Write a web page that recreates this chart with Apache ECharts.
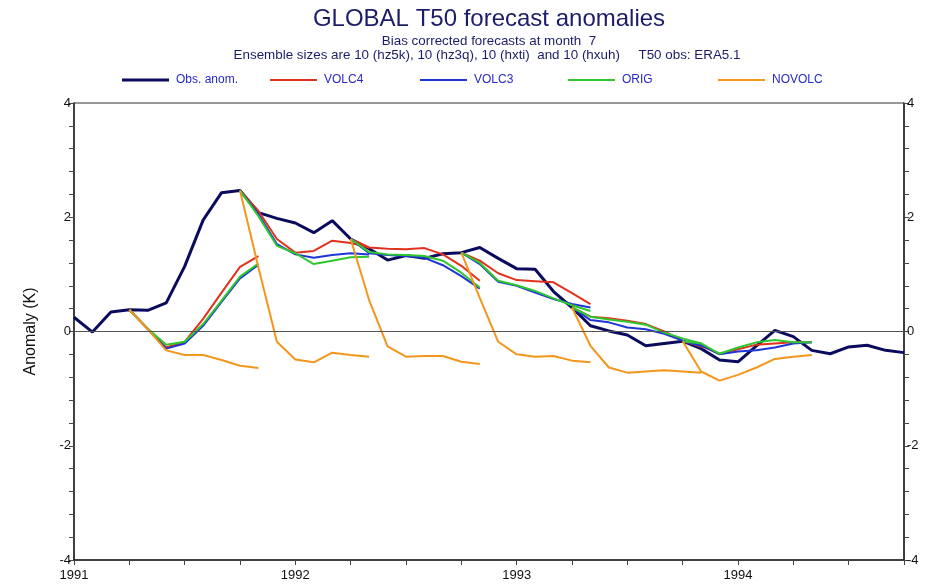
<!DOCTYPE html>
<html>
<head>
<meta charset="utf-8">
<script src="https://cdn.jsdelivr.net/npm/echarts@6/dist/echarts.min.js"></script>
<style>
  html, body { margin: 0; padding: 0; background: #fff; }
  #chart { width: 925px; height: 586px; }
</style>
</head>
<body>
<div id="chart"></div>
<script>
// months counted from Jan 1991 (0 = 1991)
const yearLabels = ["1991", "1992", "1993", "1994"];

// observed anomaly, one value per month
const obsAnom = [
  0.25, -0.01, 0.34, 0.38, 0.37, 0.50, 1.14, 1.95, 2.43, 2.47, 2.08, 1.98,
  1.90, 1.73, 1.94, 1.62, 1.45, 1.25, 1.33, 1.28, 1.36, 1.38, 1.47, 1.28,
  1.10, 1.09, 0.70, 0.42, 0.10, 0.01, -0.06, -0.25, -0.21, -0.17, -0.30, -0.50,
  -0.53, -0.25, 0.02, -0.09, -0.33, -0.39, -0.27, -0.24, -0.33, -0.37
];

// forecast start months, each forecast runs 8 months (start + 7)
const startMonths = [3, 9, 15, 21, 27, 33];

const volc4 = [
  [0.38, 0.05, -0.28, -0.18, 0.22, 0.68, 1.13, 1.32],
  [2.47, 2.11, 1.62, 1.38, 1.41, 1.59, 1.55, 1.47],
  [1.62, 1.47, 1.45, 1.44, 1.46, 1.35, 1.15, 0.89],
  [1.38, 1.24, 1.02, 0.90, 0.88, 0.86, 0.67, 0.48],
  [0.42, 0.26, 0.23, 0.19, 0.13, 0.00, -0.16, -0.27],
  [-0.17, -0.25, -0.39, -0.31, -0.23, -0.21, -0.19, -0.19]
];
const volc3 = [
  [0.38, 0.04, -0.30, -0.21, 0.10, 0.52, 0.93, 1.17],
  [2.47, 2.05, 1.53, 1.35, 1.29, 1.34, 1.37, 1.35],
  [1.62, 1.37, 1.34, 1.32, 1.29, 1.16, 0.97, 0.75],
  [1.38, 1.18, 0.87, 0.80, 0.68, 0.57, 0.48, 0.42],
  [0.42, 0.20, 0.16, 0.07, 0.04, -0.04, -0.16, -0.25],
  [-0.17, -0.24, -0.40, -0.35, -0.33, -0.28, -0.21, -0.19]
];
const orig = [
  [0.38, 0.05, -0.23, -0.18, 0.13, 0.54, 0.96, 1.19],
  [2.47, 2.02, 1.50, 1.37, 1.18, 1.24, 1.30, 1.31],
  [1.62, 1.39, 1.35, 1.34, 1.32, 1.24, 1.03, 0.77],
  [1.38, 1.20, 0.89, 0.81, 0.71, 0.58, 0.46, 0.36],
  [0.42, 0.26, 0.21, 0.17, 0.12, -0.02, -0.12, -0.21],
  [-0.17, -0.21, -0.39, -0.28, -0.19, -0.15, -0.19, -0.19]
];
const novolc = [
  [0.38, 0.04, -0.33, -0.41, -0.41, -0.50, -0.60, -0.64],
  [2.47, 1.12, -0.18, -0.49, -0.54, -0.37, -0.41, -0.44],
  [1.62, 0.55, -0.26, -0.44, -0.43, -0.43, -0.53, -0.57],
  [1.38, 0.59, -0.18, -0.40, -0.44, -0.43, -0.51, -0.54],
  [0.42, -0.25, -0.63, -0.72, -0.70, -0.68, -0.70, -0.72],
  [-0.17, -0.70, -0.86, -0.76, -0.63, -0.48, -0.44, -0.41]
];

const fontMain = "'Liberation Sans', Arial, sans-serif";
const fontNarrow = "'Liberation Sans Narrow', 'Liberation Sans', Arial, sans-serif";
const titleColor = "#1c1c6a";

function segSeries(name, segs, color) {
  return segs.map(function (vals, s) {
    return {
      name: name,
      type: "line",
      symbol: "none",
      xAxisIndex: 0,
      yAxisIndex: 0,
      itemStyle: { color: color },
      lineStyle: { color: color, width: 2 },
      data: vals.map(function (v, k) { return [startMonths[s] + k, v]; })
    };
  });
}

const chart = echarts.init(document.getElementById("chart"));

const legendItems = [
  { name: "Obs. anom.", left: 122 },
  { name: "VOLC4", left: 270 },
  { name: "VOLC3", left: 420 },
  { name: "ORIG", left: 568 },
  { name: "NOVOLC", left: 718 }
];

const option = {
  animation: false,
  backgroundColor: "#fff",
  graphic: [
    { type: "text", x: 489, y: 19, style: { text: "GLOBAL T50 forecast anomalies", fill: titleColor,
      font: "24px " + fontMain, align: "center", verticalAlign: "middle" } },
    { type: "text", x: 489, y: 41, style: { text: "Bias corrected forecasts at month  7", fill: titleColor,
      font: "13.4px " + fontMain, align: "center", verticalAlign: "middle" } },
    { type: "text", x: 487, y: 55, style: {
      text: "Ensemble sizes are 10 (hz5k), 10 (hz3q), 10 (hxti)  and 10 (hxuh)     T50 obs: ERA5.1",
      fill: titleColor, font: "13.4px " + fontMain, align: "center", verticalAlign: "middle" } }
  ],
  legend: legendItems.map(function (it) {
    return {
      data: [it.name],
      left: it.left,
      top: 74,
      padding: 0,
      icon: "rect",
      itemWidth: 47,
      itemHeight: it.name === "Obs. anom." ? 3 : 2,
      itemGap: 0,
      selectedMode: false,
      textStyle: { color: "#2828c8", fontSize: 12, fontFamily: fontMain, padding: [0, 0, 0, 2] }
    };
  }),
  grid: {
    left: 74, right: 21, top: 103, bottom: 26,
    show: true, borderColor: "#333", borderWidth: 1
  },
  xAxis: [{
    type: "value",
    min: 0,
    max: 45,
    interval: 3,
    axisLine: { show: true, onZero: false, lineStyle: { color: "#222", width: 1.5 } },
    axisTick: { show: true, length: 5, lineStyle: { color: "#444" } },
    splitLine: { show: false },
    axisLabel: {
      color: "#111", fontSize: 13, fontFamily: fontNarrow, margin: 9,
      formatter: function (v) { return v % 12 === 0 ? yearLabels[v / 12] : ""; }
    }
  }],
  yAxis: [
    {
      type: "value", position: "left", min: -4, max: 4, interval: 2,
      name: "Anomaly (K)", nameLocation: "middle", nameGap: 35,
      nameTextStyle: { color: "#111", fontSize: 16, fontFamily: fontMain },
      axisLine: { show: true, onZero: false, lineStyle: { color: "#222", width: 1.5 } },
      axisTick: { show: true, length: 5, lineStyle: { color: "#444" } },
      minorTick: { show: true, splitNumber: 5, length: 5, lineStyle: { color: "#444" } },
      splitLine: { show: false },
      axisLabel: { color: "#111", fontSize: 13, fontFamily: fontNarrow, margin: 3 }
    },
    {
      type: "value", position: "right", min: -4, max: 4, interval: 2,
      axisLine: { show: true, onZero: false, lineStyle: { color: "#222", width: 1.5 } },
      axisTick: { show: true, length: 5, lineStyle: { color: "#444" } },
      minorTick: { show: true, splitNumber: 5, length: 5, lineStyle: { color: "#444" } },
      splitLine: { show: false },
      axisLabel: { color: "#111", fontSize: 13, fontFamily: fontNarrow, margin: 3 }
    }
  ],
  series: [
    {
      name: "Obs. anom.",
      type: "line",
      symbol: "none",
      itemStyle: { color: "#0b0b5e" },
      lineStyle: { color: "#0b0b5e", width: 3 },
      data: obsAnom.map(function (v, i) { return [i, v]; }),
      markLine: {
        silent: true,
        symbol: "none",
        label: { show: false },
        lineStyle: { color: "#555", width: 1, type: "solid" },
        data: [{ yAxis: 0 }]
      }
    }
  ]
    .concat(segSeries("VOLC4", volc4, "#e0321e"))
    .concat(segSeries("VOLC3", volc3, "#1f35d6"))
    .concat(segSeries("ORIG", orig, "#2ec82e"))
    .concat(segSeries("NOVOLC", novolc, "#f3961c"))
};

chart.setOption(option);
window.addEventListener("resize", function () { chart.resize(); });
</script>
</body>
</html>
